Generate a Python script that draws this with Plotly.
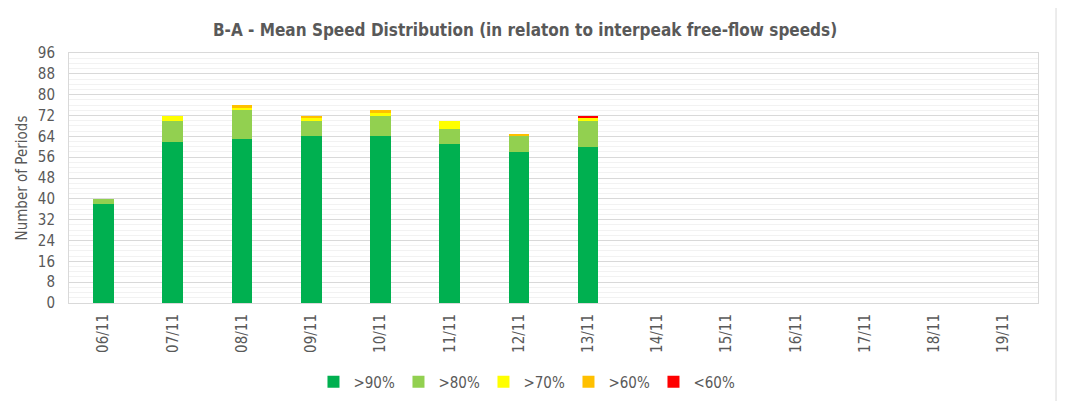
import plotly.graph_objects as go

dates = ["06/11", "07/11", "08/11", "09/11", "10/11", "11/11", "12/11",
         "13/11", "14/11", "15/11", "16/11", "17/11", "18/11", "19/11"]
over90 = [38, 62, 63, 64, 64, 61, 58, 60, None, None, None, None, None, None]
over80 = [2, 8, 11, 6, 8, 6, 6, 10, None, None, None, None, None, None]
over70 = [0, 2, 1, 1, 1, 3, 0, 1, None, None, None, None, None, None]
over60 = [0, 0, 1, 1, 1, 0, 1, 0, None, None, None, None, None, None]
under60 = [0, 0, 0, 0, 0, 0, 0, 1, None, None, None, None, None, None]
y_ticks = list(range(0, 97, 8))

series = [
    (">90%", over90, "#00B050"),
    (">80%", over80, "#92D050"),
    (">70%", over70, "#FFFF00"),
    (">60%", over60, "#FFC000"),
    ("<60%", under60, "#FF0000"),
]

FONT = "Tahoma, 'DejaVu Sans Condensed', 'DejaVu Sans', sans-serif"
GREY = "#595959"

fig = go.Figure()
for name, vals, col in series:
    fig.add_trace(go.Bar(x=dates, y=vals, name=name, marker=dict(color=col, line=dict(width=0))))

fig.update_layout(
    barmode="stack",
    bargap=0.7,
    width=1065, height=393,
    margin=dict(l=61, r=35, t=45, b=98, autoexpand=False),
    paper_bgcolor="white", plot_bgcolor="white",
    font=dict(family=FONT, size=15, color=GREY),
    title=dict(text="<b>B-A - Mean Speed Distribution (in relaton to interpeak free-flow speeds)</b>",
               x=0.4855, xanchor="center", y=0.944, yanchor="middle", automargin=False,
               font=dict(family=FONT, size=17, color=GREY)),
    legend=dict(orientation="h", x=0.4716, xanchor="center", y=-0.25, yanchor="top",
                font=dict(size=15, color=GREY), itemwidth=30, entrywidth=40,
                entrywidthmode="pixels", traceorder="normal"),
    xaxis=dict(tickangle=-90, showline=True, linecolor="#D9D9D9", mirror=True, automargin=False,
               ticks="", ticklabelstandoff=4, tickfont=dict(size=15, color=GREY)),
    yaxis=dict(range=[0, 96], tickvals=y_ticks, showgrid=True, gridcolor="#D9D9D9",
               showline=True, linecolor="#D9D9D9", mirror=True, zeroline=False, automargin=False,
               ticks="", ticklabelstandoff=10,
               minor=dict(dtick=2, showgrid=True, gridcolor="#F2F2F2"),
               title=dict(text="Number of Periods", standoff=6, font=dict(size=15, color=GREY)),
               tickfont=dict(size=15, color=GREY)),
)

fig.add_shape(type="line", xref="paper", yref="paper", x0=1.0186, x1=1.0186, y0=-0.45, y1=1.25,
              line=dict(color="#D9D9D9", width=1))

fig.write_html("out.html")
